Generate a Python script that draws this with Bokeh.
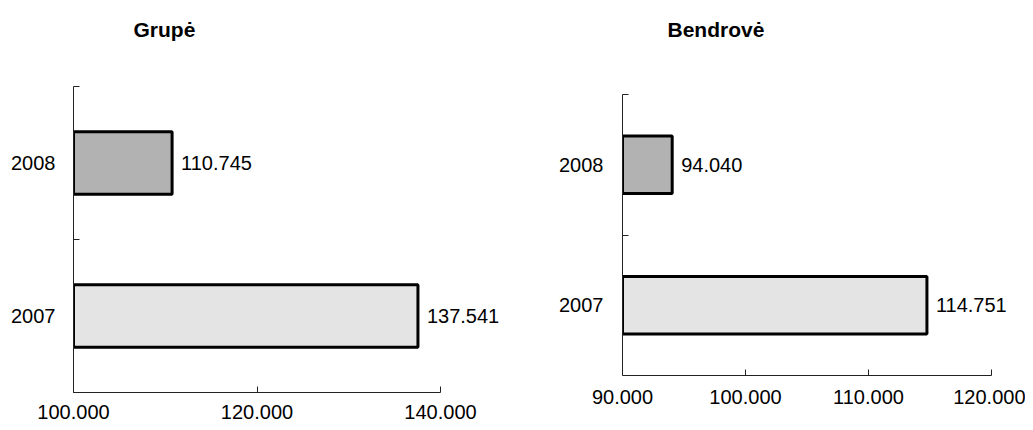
from bokeh.plotting import figure
from bokeh.models import FixedTicker, ColumnDataSource, Range1d, LabelSet, LinearAxis
from bokeh.models.labeling import CustomLabelingPolicy
from bokeh.core.properties import value
from bokeh.layouts import row
from bokeh.embed import file_html
from bokeh.resources import INLINE

categories = ["2007", "2008"]
grupe_values = [137541, 110745]
bendrove_values = [114751, 94040]
grupe_ticks = [100000, 120000, 140000]
grupe_tick_labels = ["100.000", "120.000", "140.000"]
bendrove_ticks = [90000, 100000, 110000, 120000]
bendrove_tick_labels = ["90.000", "100.000", "110.000", "120.000"]
bar_colors = ["#e4e4e4", "#b2b2b2"]

FONT = "Liberation Sans"
TOP, FRAME_H, HEIGHT = 86, 306, 428
TITLE_GAP = 46

HIDE_ALL = "for (const i of indices) indices.unset(i)"


def style_labels(ax, standoff):
    ax.major_label_text_font = FONT
    ax.major_label_text_font_size = "20px"
    ax.major_label_text_color = "black"
    ax.major_label_standoff = standoff


def make_chart(title, values, ticks, tick_labels, width, mb_left, frame_w,
               axis_px, axis_top, axis_bottom, title_offset, x_standoff, y_standoff):
    mb_right = width - mb_left - frame_w
    span = ticks[-1] - ticks[0]
    x_end = ticks[-1] + (frame_w - axis_px) / axis_px * span
    n = len(categories)
    unit = (axis_bottom - axis_top) / n
    frame_bottom = TOP + FRAME_H
    y_start = -(frame_bottom - axis_bottom) / unit
    y_end = n + (axis_top - TOP) / unit
    lifted = axis_bottom < frame_bottom

    p = figure(width=width, height=HEIGHT, output_backend="svg", toolbar_location=None,
               x_range=Range1d(ticks[0], x_end), y_range=Range1d(y_start, y_end),
               min_border_left=mb_left, min_border_right=mb_right,
               min_border_top=TOP, min_border_bottom=HEIGHT - TOP - FRAME_H)
    xa = p.below[0]
    ya = p.left[0]

    p.title.text = title
    p.title.text_font = FONT
    p.title.text_font_size = "21px"
    p.title.text_font_style = "bold"
    p.title.text_color = "black"
    p.title.align = "left"
    p.title.offset = title_offset
    p.title.standoff = 0
    p.outline_line_color = None
    p.grid.visible = False
    p.background_fill_color = "white"

    # invisible spacer between the frame and the title (one hidden tick, no labels)
    spacer = LinearAxis(ticker=FixedTicker(ticks=[ticks[0]]), axis_line_color=None,
                        major_tick_line_color=None, minor_tick_line_color=None,
                        major_tick_in=0, major_tick_out=TITLE_GAP,
                        minor_tick_in=0, minor_tick_out=0, major_label_standoff=0,
                        major_label_text_font_size="0px",
                        major_label_policy=CustomLabelingPolicy(code=HIDE_ALL))
    p.add_layout(spacer, "above")

    ypos = [i + 0.5 for i in range(n)]
    src = ColumnDataSource(dict(
        y=ypos, right=values, color=bar_colors,
        label=[f"{v:,}".replace(",", ".") for v in values],
    ))
    p.hbar(y="y", left=ticks[0], right="right", height=0.41, source=src,
           fill_color="color", line_color="black", line_width=3)
    labels = LabelSet(x="right", y="y", text="label", source=src, x_offset=9,
                      text_baseline="middle", text_align="left",
                      text_font_size="20px", text_font=value(FONT), text_color="black")
    p.add_layout(labels)

    overrides = {t: l for t, l in zip(ticks, tick_labels)}
    xa.ticker = FixedTicker(ticks=ticks)
    xa.bounds = (ticks[0], ticks[-1])
    xa.major_tick_in = 6
    xa.major_tick_out = 0
    xa.minor_tick_in = 0
    xa.minor_tick_out = 0
    xa.axis_line_color = "#222222"
    xa.major_tick_line_color = "#222222"
    if lifted:
        # axis line + ticks at the lifted position, labels drawn by a second axis
        xa.fixed_location = 0
        xa.major_label_standoff = 0
        xa.major_label_text_font_size = "0px"
        xa.major_label_policy = CustomLabelingPolicy(code=HIDE_ALL)
        lab = LinearAxis(ticker=FixedTicker(ticks=ticks), major_label_overrides=overrides,
                         axis_line_color=None, major_tick_line_color=None,
                         minor_tick_line_color=None, major_tick_in=0, major_tick_out=0,
                         minor_tick_in=0, minor_tick_out=0)
        style_labels(lab, x_standoff - (frame_bottom - axis_bottom))
        p.below = [lab, xa]
    else:
        xa.major_label_overrides = overrides
        style_labels(xa, x_standoff)

    ya.ticker = FixedTicker(ticks=ypos, minor_ticks=list(range(n + 1)))
    ya.bounds = (0, n)
    ya.major_label_overrides = {y: c for y, c in zip(ypos, categories)}
    ya.major_tick_in = 0
    ya.major_tick_out = 0
    ya.minor_tick_in = 6
    ya.minor_tick_out = 0
    ya.minor_tick_line_color = "#222222"
    ya.axis_line_color = "#222222"
    style_labels(ya, y_standoff)
    return p


p1 = make_chart("Grupė", grupe_values, grupe_ticks, grupe_tick_labels,
                width=528, mb_left=73, frame_w=447, axis_px=367,
                axis_top=86, axis_bottom=392, title_offset=60,
                x_standoff=12, y_standoff=18)
p2 = make_chart("Bendrovė", bendrove_values, bendrove_ticks, bendrove_tick_labels,
                width=497, mb_left=94, frame_w=395, axis_px=369,
                axis_top=94, axis_bottom=375, title_offset=45,
                x_standoff=14, y_standoff=19)

p = row(p1, p2)
open("out.html", "w").write(file_html(p, INLINE))
